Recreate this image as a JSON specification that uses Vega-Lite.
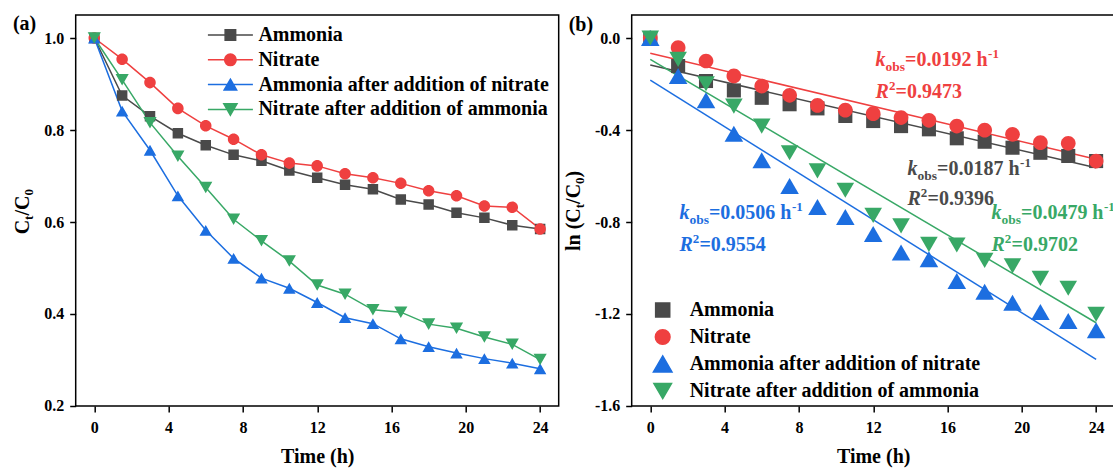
{
  "$schema": "https://vega.github.io/schema/vega-lite/v6.json",
  "background": "white",
  "padding": {"left": 11.7, "top": 13, "right": 0, "bottom": 0},
  "spacing": 3,
  "config": {
    "font": "Liberation Serif",
    "view": {"stroke": "black", "strokeWidth": 1.5},
    "axis": {
      "domain": false, "grid": false,
      "labelFont": "Liberation Serif", "labelFontSize": 16, "labelFontWeight": "bold", "labelColor": "black",
      "labelOverlap": false, "labelFlush": false,
      "tickSize": 6, "tickWidth": 1.5, "tickColor": "black",
      "titleFont": "Liberation Serif", "titleFontSize": 20, "titleFontWeight": "bold", "titleColor": "black"
    }
  },
  "datasets": {
    "left": [
      {"series": "Ammonia", "t": 0, "v": 1.0}, {"series": "Ammonia", "t": 1.5, "v": 0.875}, {"series": "Ammonia", "t": 3, "v": 0.830}, {"series": "Ammonia", "t": 4.5, "v": 0.793}, {"series": "Ammonia", "t": 6, "v": 0.767}, {"series": "Ammonia", "t": 7.5, "v": 0.746}, {"series": "Ammonia", "t": 9, "v": 0.733}, {"series": "Ammonia", "t": 10.5, "v": 0.712}, {"series": "Ammonia", "t": 12, "v": 0.696}, {"series": "Ammonia", "t": 13.5, "v": 0.681}, {"series": "Ammonia", "t": 15, "v": 0.671}, {"series": "Ammonia", "t": 16.5, "v": 0.649}, {"series": "Ammonia", "t": 18, "v": 0.638}, {"series": "Ammonia", "t": 19.5, "v": 0.620}, {"series": "Ammonia", "t": 21, "v": 0.609}, {"series": "Ammonia", "t": 22.5, "v": 0.593}, {"series": "Ammonia", "t": 24, "v": 0.585},
      {"series": "Nitrate", "t": 0, "v": 1.0}, {"series": "Nitrate", "t": 1.5, "v": 0.954}, {"series": "Nitrate", "t": 3, "v": 0.903}, {"series": "Nitrate", "t": 4.5, "v": 0.847}, {"series": "Nitrate", "t": 6, "v": 0.809}, {"series": "Nitrate", "t": 7.5, "v": 0.780}, {"series": "Nitrate", "t": 9, "v": 0.746}, {"series": "Nitrate", "t": 10.5, "v": 0.728}, {"series": "Nitrate", "t": 12, "v": 0.722}, {"series": "Nitrate", "t": 13.5, "v": 0.705}, {"series": "Nitrate", "t": 15, "v": 0.696}, {"series": "Nitrate", "t": 16.5, "v": 0.684}, {"series": "Nitrate", "t": 18, "v": 0.668}, {"series": "Nitrate", "t": 19.5, "v": 0.657}, {"series": "Nitrate", "t": 21, "v": 0.635}, {"series": "Nitrate", "t": 22.5, "v": 0.632}, {"series": "Nitrate", "t": 24, "v": 0.585},
      {"series": "Ammonia after addition of nitrate", "t": 0, "v": 1.0}, {"series": "Ammonia after addition of nitrate", "t": 1.5, "v": 0.841}, {"series": "Ammonia after addition of nitrate", "t": 3, "v": 0.756}, {"series": "Ammonia after addition of nitrate", "t": 4.5, "v": 0.657}, {"series": "Ammonia after addition of nitrate", "t": 6, "v": 0.582}, {"series": "Ammonia after addition of nitrate", "t": 7.5, "v": 0.521}, {"series": "Ammonia after addition of nitrate", "t": 9, "v": 0.478}, {"series": "Ammonia after addition of nitrate", "t": 10.5, "v": 0.456}, {"series": "Ammonia after addition of nitrate", "t": 12, "v": 0.425}, {"series": "Ammonia after addition of nitrate", "t": 13.5, "v": 0.392}, {"series": "Ammonia after addition of nitrate", "t": 15, "v": 0.379}, {"series": "Ammonia after addition of nitrate", "t": 16.5, "v": 0.346}, {"series": "Ammonia after addition of nitrate", "t": 18, "v": 0.329}, {"series": "Ammonia after addition of nitrate", "t": 19.5, "v": 0.315}, {"series": "Ammonia after addition of nitrate", "t": 21, "v": 0.303}, {"series": "Ammonia after addition of nitrate", "t": 22.5, "v": 0.293}, {"series": "Ammonia after addition of nitrate", "t": 24, "v": 0.281},
      {"series": "Nitrate after addition of ammonia", "t": 0, "v": 1.0}, {"series": "Nitrate after addition of ammonia", "t": 1.5, "v": 0.909}, {"series": "Nitrate after addition of ammonia", "t": 3, "v": 0.816}, {"series": "Nitrate after addition of ammonia", "t": 4.5, "v": 0.743}, {"series": "Nitrate after addition of ammonia", "t": 6, "v": 0.675}, {"series": "Nitrate after addition of ammonia", "t": 7.5, "v": 0.606}, {"series": "Nitrate after addition of ammonia", "t": 9, "v": 0.559}, {"series": "Nitrate after addition of ammonia", "t": 10.5, "v": 0.515}, {"series": "Nitrate after addition of ammonia", "t": 12, "v": 0.463}, {"series": "Nitrate after addition of ammonia", "t": 13.5, "v": 0.443}, {"series": "Nitrate after addition of ammonia", "t": 15, "v": 0.409}, {"series": "Nitrate after addition of ammonia", "t": 16.5, "v": 0.404}, {"series": "Nitrate after addition of ammonia", "t": 18, "v": 0.378}, {"series": "Nitrate after addition of ammonia", "t": 19.5, "v": 0.369}, {"series": "Nitrate after addition of ammonia", "t": 21, "v": 0.350}, {"series": "Nitrate after addition of ammonia", "t": 22.5, "v": 0.334}, {"series": "Nitrate after addition of ammonia", "t": 24, "v": 0.301}
    ],
    "right": [
      {"series": "Ammonia", "t": 0, "v": 0}, {"series": "Ammonia", "t": 1.5, "v": -0.122}, {"series": "Ammonia", "t": 3, "v": -0.187}, {"series": "Ammonia", "t": 4.5, "v": -0.228}, {"series": "Ammonia", "t": 6, "v": -0.260}, {"series": "Ammonia", "t": 7.5, "v": -0.288}, {"series": "Ammonia", "t": 9, "v": -0.306}, {"series": "Ammonia", "t": 10.5, "v": -0.339}, {"series": "Ammonia", "t": 12, "v": -0.361}, {"series": "Ammonia", "t": 13.5, "v": -0.383}, {"series": "Ammonia", "t": 15, "v": -0.397}, {"series": "Ammonia", "t": 16.5, "v": -0.436}, {"series": "Ammonia", "t": 18, "v": -0.451}, {"series": "Ammonia", "t": 19.5, "v": -0.477}, {"series": "Ammonia", "t": 21, "v": -0.499}, {"series": "Ammonia", "t": 22.5, "v": -0.513}, {"series": "Ammonia", "t": 24, "v": -0.535},
      {"series": "Nitrate", "t": 0, "v": 0}, {"series": "Nitrate", "t": 1.5, "v": -0.042}, {"series": "Nitrate", "t": 3, "v": -0.100}, {"series": "Nitrate", "t": 4.5, "v": -0.165}, {"series": "Nitrate", "t": 6, "v": -0.209}, {"series": "Nitrate", "t": 7.5, "v": -0.249}, {"series": "Nitrate", "t": 9, "v": -0.293}, {"series": "Nitrate", "t": 10.5, "v": -0.314}, {"series": "Nitrate", "t": 12, "v": -0.329}, {"series": "Nitrate", "t": 13.5, "v": -0.346}, {"series": "Nitrate", "t": 15, "v": -0.358}, {"series": "Nitrate", "t": 16.5, "v": -0.383}, {"series": "Nitrate", "t": 18, "v": -0.401}, {"series": "Nitrate", "t": 19.5, "v": -0.419}, {"series": "Nitrate", "t": 21, "v": -0.455}, {"series": "Nitrate", "t": 22.5, "v": -0.458}, {"series": "Nitrate", "t": 24, "v": -0.535},
      {"series": "Ammonia after addition of nitrate", "t": 0, "v": 0}, {"series": "Ammonia after addition of nitrate", "t": 1.5, "v": -0.165}, {"series": "Ammonia after addition of nitrate", "t": 3, "v": -0.271}, {"series": "Ammonia after addition of nitrate", "t": 4.5, "v": -0.416}, {"series": "Ammonia after addition of nitrate", "t": 6, "v": -0.532}, {"series": "Ammonia after addition of nitrate", "t": 7.5, "v": -0.643}, {"series": "Ammonia after addition of nitrate", "t": 9, "v": -0.735}, {"series": "Ammonia after addition of nitrate", "t": 10.5, "v": -0.778}, {"series": "Ammonia after addition of nitrate", "t": 12, "v": -0.852}, {"series": "Ammonia after addition of nitrate", "t": 13.5, "v": -0.933}, {"series": "Ammonia after addition of nitrate", "t": 15, "v": -0.962}, {"series": "Ammonia after addition of nitrate", "t": 16.5, "v": -1.057}, {"series": "Ammonia after addition of nitrate", "t": 18, "v": -1.103}, {"series": "Ammonia after addition of nitrate", "t": 19.5, "v": -1.151}, {"series": "Ammonia after addition of nitrate", "t": 21, "v": -1.191}, {"series": "Ammonia after addition of nitrate", "t": 22.5, "v": -1.230}, {"series": "Ammonia after addition of nitrate", "t": 24, "v": -1.271},
      {"series": "Nitrate after addition of ammonia", "t": 0, "v": 0}, {"series": "Nitrate after addition of ammonia", "t": 1.5, "v": -0.093}, {"series": "Nitrate after addition of ammonia", "t": 3, "v": -0.199}, {"series": "Nitrate after addition of ammonia", "t": 4.5, "v": -0.296}, {"series": "Nitrate after addition of ammonia", "t": 6, "v": -0.383}, {"series": "Nitrate after addition of ammonia", "t": 7.5, "v": -0.499}, {"series": "Nitrate after addition of ammonia", "t": 9, "v": -0.578}, {"series": "Nitrate after addition of ammonia", "t": 10.5, "v": -0.662}, {"series": "Nitrate after addition of ammonia", "t": 12, "v": -0.771}, {"series": "Nitrate after addition of ammonia", "t": 13.5, "v": -0.817}, {"series": "Nitrate after addition of ammonia", "t": 15, "v": -0.897}, {"series": "Nitrate after addition of ammonia", "t": 16.5, "v": -0.900}, {"series": "Nitrate after addition of ammonia", "t": 18, "v": -0.967}, {"series": "Nitrate after addition of ammonia", "t": 19.5, "v": -0.991}, {"series": "Nitrate after addition of ammonia", "t": 21, "v": -1.045}, {"series": "Nitrate after addition of ammonia", "t": 22.5, "v": -1.088}, {"series": "Nitrate after addition of ammonia", "t": 24, "v": -1.201}
    ],
    "fits": [
      {"series": "Ammonia", "t": 0, "v": -0.117}, {"series": "Ammonia", "t": 24, "v": -0.564},
      {"series": "Nitrate", "t": 0, "v": -0.0667}, {"series": "Nitrate", "t": 24, "v": -0.527},
      {"series": "Ammonia after addition of nitrate", "t": 0, "v": -0.183}, {"series": "Ammonia after addition of nitrate", "t": 24, "v": -1.397},
      {"series": "Nitrate after addition of ammonia", "t": 0, "v": -0.093}, {"series": "Nitrate after addition of ammonia", "t": 24, "v": -1.238}
    ],
    "ann": [
      {"series": "Nitrate", "row": "k", "t": 12.13, "v": -0.1217, "txt": "=0.0192 h"},
      {"series": "Nitrate", "row": "R", "t": 12.13, "v": -0.2596, "txt": "=0.9473"},
      {"series": "Ammonia", "row": "k", "t": 13.85, "v": -0.5957, "txt": "=0.0187 h"},
      {"series": "Ammonia", "row": "R", "t": 13.85, "v": -0.7261, "txt": "=0.9396"},
      {"series": "Ammonia after addition of nitrate", "row": "k", "t": 1.57, "v": -0.7883, "txt": "=0.0506 h"},
      {"series": "Ammonia after addition of nitrate", "row": "R", "t": 1.57, "v": -0.9261, "txt": "=0.9554"},
      {"series": "Nitrate after addition of ammonia", "row": "k", "t": 18.37, "v": -0.7848, "txt": "=0.0479 h"},
      {"series": "Nitrate after addition of ammonia", "row": "R", "t": 18.37, "v": -0.9261, "txt": "=0.9702"}
    ]
  },
  "hconcat": [
    {
      "width": 483,
      "height": 391,
      "encoding": {
        "x": {"field": "t", "type": "quantitative", "scale": {"domain": [-1, 25], "nice": false, "zero": false},
              "axis": {"values": [0, 4, 8, 12, 16, 20, 24], "title": "Time (h)", "labelPadding": 8, "titlePadding": 10.5}},
        "y": {"field": "v", "type": "quantitative", "scale": {"domain": [0.2, 1.05], "nice": false, "zero": false},
              "axis": {"values": [0.2, 0.4, 0.6, 0.8, 1.0], "format": ".1f", "title": null, "labelPadding": 6}}
      },
      "layer": [
        {
          "data": {"name": "left"},
          "mark": {"type": "line", "strokeWidth": 1.5},
          "encoding": {
            "color": {"field": "series", "type": "nominal",
                      "scale": {"domain": ["Ammonia", "Nitrate", "Ammonia after addition of nitrate", "Nitrate after addition of ammonia"], "range": ["#4a4a4a", "#ef4040", "#1c6ee0", "#38a866"]}}
          }
        },
        {
          "data": {"name": "left"},
          "mark": {"type": "point", "filled": true, "opacity": 1, "strokeWidth": 0, "size": 144, "clip": true},
          "encoding": {
            "color": {"field": "series", "type": "nominal",
                      "scale": {"domain": ["Ammonia", "Nitrate", "Ammonia after addition of nitrate", "Nitrate after addition of ammonia"], "range": ["#4a4a4a", "#ef4040", "#1c6ee0", "#38a866"]},
                      "legend": {
                        "orient": "none", "legendX": 144.7, "legendY": 10, "title": null, "padding": 0,
                        "labelFont": "Liberation Serif", "labelFontSize": 20, "labelFontWeight": "bold", "labelColor": "black",
                        "labelOffset": 18, "rowPadding": 4.8, "symbolSize": 144, "labelLimit": 600,
                        "encode": {"symbols": {
                          "stroke": {"value": {"expr": "datum.value === 'Ammonia' ? '#4a4a4a' : datum.value === 'Nitrate' ? '#ef4040' : datum.value === 'Ammonia after addition of nitrate' ? '#1c6ee0' : '#38a866'"}},
                          "strokeWidth": {"value": 1.5},
                          "opacity": {"value": 1}, "fillOpacity": {"value": 1}, "strokeOpacity": {"value": 1}
                        }}
                      }},
            "shape": {"field": "series", "type": "nominal",
                      "scale": {"domain": ["Ammonia", "Nitrate", "Ammonia after addition of nitrate", "Nitrate after addition of ammonia"],
                                "range": ["M-3.75,0H3.75M-0.875,-0.875H0.875V0.875H-0.875Z", "M-3.75,0H3.75M-0.96,0A0.96,0.96,0,1,0,0.96,0A0.96,0.96,0,1,0,-0.96,0Z", "M-3.75,0H3.75M0,-0.9L1.04,0.9H-1.04Z", "M-3.75,0H3.75M0,0.96L1.1,-0.96H-1.1Z"]}}
          }
        },
        {
          "data": {"values": [{"t": -4.38, "v": 1.0174}]},
          "mark": {"type": "text", "text": "(a)", "align": "left", "baseline": "alphabetic", "fontSize": 20, "fontWeight": "bold", "color": "black"}
        },
        {
          "data": {"values": [{"t": -3.487, "v": 0.5733}]},
          "layer": [
            {"mark": {"type": "text", "text": "C", "angle": 270, "align": "left", "baseline": "alphabetic", "fontSize": 20, "fontWeight": "bold", "color": "black"}},
            {"mark": {"type": "text", "text": "t", "angle": 270, "align": "left", "baseline": "alphabetic", "fontSize": 13, "fontWeight": "bold", "color": "black", "dx": 14.4, "dy": 4}},
            {"mark": {"type": "text", "text": "/C", "angle": 270, "align": "left", "baseline": "alphabetic", "fontSize": 20, "fontWeight": "bold", "color": "black", "dx": 18.7}},
            {"mark": {"type": "text", "text": "0", "angle": 270, "align": "left", "baseline": "alphabetic", "fontSize": 13, "fontWeight": "bold", "color": "black", "dx": 38.7, "dy": 4}}
          ]
        }
      ]
    },
    {
      "width": 483,
      "height": 391,
      "encoding": {
        "x": {"field": "t", "type": "quantitative", "scale": {"domain": [-1, 25], "nice": false, "zero": false},
              "axis": {"values": [0, 4, 8, 12, 16, 20, 24], "title": "Time (h)", "labelPadding": 8, "titlePadding": 10.5}},
        "y": {"field": "v", "type": "quantitative", "scale": {"domain": [-1.6, 0.1], "nice": false, "zero": false},
              "axis": {"values": [-1.6, -1.2, -0.8, -0.4, 0], "labelExpr": "(datum.value < 0 ? '-' : '') + format(abs(datum.value), '.1f')", "title": null, "labelPadding": 6}}
      },
      "layer": [
        {
          "data": {"name": "fits"},
          "mark": {"type": "line", "strokeWidth": 1.5},
          "encoding": {
            "color": {"field": "series", "type": "nominal",
                      "scale": {"domain": ["Ammonia", "Nitrate", "Ammonia after addition of nitrate", "Nitrate after addition of ammonia"], "range": ["#4a4a4a", "#ef4040", "#1c6ee0", "#38a866"]}}
          }
        },
        {
          "data": {"name": "right"},
          "mark": {"type": "point", "filled": true, "opacity": 1, "strokeWidth": 0, "size": 256},
          "encoding": {
            "color": {"field": "series", "type": "nominal",
                      "scale": {"domain": ["Ammonia", "Nitrate", "Ammonia after addition of nitrate", "Nitrate after addition of ammonia"], "range": ["#4a4a4a", "#ef4040", "#1c6ee0", "#38a866"]},
                      "legend": {
                        "orient": "none", "legendX": 21, "legendY": 285, "title": null, "padding": 0,
                        "labelFont": "Liberation Serif", "labelFontSize": 20, "labelFontWeight": "bold", "labelColor": "black",
                        "labelOffset": 17, "rowPadding": 5, "symbolSize": 256, "labelLimit": 600,
                        "encode": {"symbols": {"strokeWidth": {"value": 0}, "opacity": {"value": 1}, "fillOpacity": {"value": 1}}}
                      }},
            "shape": {"field": "series", "type": "nominal",
                      "scale": {"domain": ["Ammonia", "Nitrate", "Ammonia after addition of nitrate", "Nitrate after addition of ammonia"],
                                "range": ["M-0.88,-0.88H0.88V0.88H-0.88Z", "M-0.92,0A0.92,0.92,0,1,0,0.92,0A0.92,0.92,0,1,0,-0.92,0Z", "M0,-1L1.16,1H-1.16Z", "M0,0.95L1.1,-0.95H-1.1Z"]}}
          }
        },
        {
          "data": {"name": "ann"},
          "encoding": {
            "color": {"field": "series", "type": "nominal",
                      "scale": {"domain": ["Ammonia", "Nitrate", "Ammonia after addition of nitrate", "Nitrate after addition of ammonia"], "range": ["#4a4a4a", "#ef4040", "#1c6ee0", "#38a866"]}}
          },
          "layer": [
            {"transform": [{"filter": "datum.row === 'k'"}], "mark": {"type": "text", "text": "k", "fontStyle": "italic", "fontSize": 20, "fontWeight": "bold", "align": "left", "baseline": "alphabetic"}},
            {"transform": [{"filter": "datum.row === 'k'"}], "mark": {"type": "text", "text": "obs", "fontSize": 13.5, "fontWeight": "bold", "align": "left", "baseline": "alphabetic", "dx": 10, "dy": 5}},
            {"transform": [{"filter": "datum.row === 'k'"}], "mark": {"type": "text", "fontSize": 20, "fontWeight": "bold", "align": "left", "baseline": "alphabetic", "dx": 29.5}, "encoding": {"text": {"field": "txt"}}},
            {"transform": [{"filter": "datum.row === 'k'"}], "mark": {"type": "text", "text": "-1", "fontSize": 13, "fontWeight": "bold", "align": "left", "baseline": "alphabetic", "dx": 112.5, "dy": -8}},
            {"transform": [{"filter": "datum.row === 'R'"}], "mark": {"type": "text", "text": "R", "fontStyle": "italic", "fontSize": 20, "fontWeight": "bold", "align": "left", "baseline": "alphabetic"}},
            {"transform": [{"filter": "datum.row === 'R'"}], "mark": {"type": "text", "text": "2", "fontSize": 13, "fontWeight": "bold", "align": "left", "baseline": "alphabetic", "dx": 13.3, "dy": -8}},
            {"transform": [{"filter": "datum.row === 'R'"}], "mark": {"type": "text", "fontSize": 20, "fontWeight": "bold", "align": "left", "baseline": "alphabetic", "dx": 20}, "encoding": {"text": {"field": "txt"}}}
          ]
        },
        {
          "data": {"values": [{"t": -4.39, "v": 0.0326}]},
          "mark": {"type": "text", "text": "(b)", "align": "left", "baseline": "alphabetic", "fontSize": 20, "fontWeight": "bold", "color": "black"}
        },
        {
          "data": {"values": [{"t": -3.8, "v": -0.926}]},
          "layer": [
            {"mark": {"type": "text", "text": "ln (C", "angle": 270, "align": "left", "baseline": "alphabetic", "fontSize": 20, "fontWeight": "bold", "color": "black"}},
            {"mark": {"type": "text", "text": "t", "angle": 270, "align": "left", "baseline": "alphabetic", "fontSize": 13, "fontWeight": "bold", "color": "black", "dx": 42.8, "dy": 4}},
            {"mark": {"type": "text", "text": "/C", "angle": 270, "align": "left", "baseline": "alphabetic", "fontSize": 20, "fontWeight": "bold", "color": "black", "dx": 47.1}},
            {"mark": {"type": "text", "text": "0", "angle": 270, "align": "left", "baseline": "alphabetic", "fontSize": 13, "fontWeight": "bold", "color": "black", "dx": 67.1, "dy": 4}},
            {"mark": {"type": "text", "text": ")", "angle": 270, "align": "left", "baseline": "alphabetic", "fontSize": 20, "fontWeight": "bold", "color": "black", "dx": 73.6}}
          ]
        }
      ]
    }
  ],
  "resolve": {
    "scale": {"color": "independent", "shape": "independent", "x": "independent", "y": "independent"},
    "legend": {"color": "independent", "shape": "independent"}
  }
}
